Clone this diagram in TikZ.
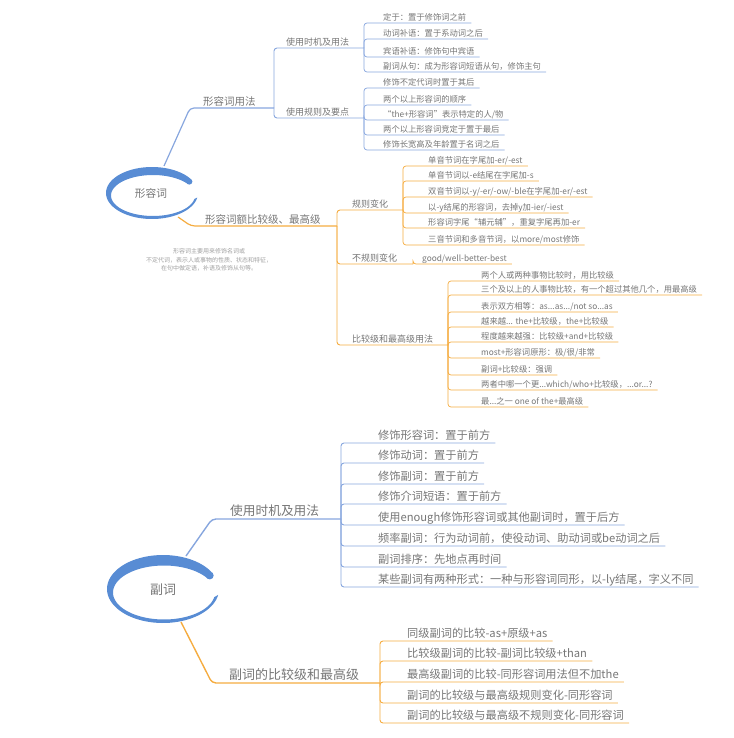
\documentclass[tikz,border=0pt]{standalone}
\usepackage{fontspec}
\setmainfont{Noto Sans CJK SC}
\definecolor{blueL}{RGB}{135,166,222}
\definecolor{ellC}{RGB}{88,140,212}
\definecolor{orgL}{RGB}{245,172,64}
\definecolor{txt}{RGB}{118,118,118}
\definecolor{notec}{RGB}{160,160,160}
\tikzset{
  lf/.style={anchor=base west, inner sep=0pt, text=txt, font=\fontsize{8.3}{10}\selectfont},
  br/.style={anchor=base west, inner sep=0pt, text=txt},
  conn/.style={draw=blueL, line width=0.7pt, rounded corners=3pt},
  mainB/.style={draw=blueL, line width=1.2pt, rounded corners=4pt},
  mainO/.style={draw=orgL, line width=1.2pt, rounded corners=4pt},
  subB/.style={draw=blueL, line width=0.9pt, rounded corners=3pt},
  subO/.style={draw=orgL, line width=0.9pt, rounded corners=3pt},
  ctext/.style={inner sep=0pt, text=txt},
}
\newcommand\leaf[6][2.5]{%
  \node[lf, yshift=#1pt] (#2) at (#3,#4) {#6};
  \draw[conn] (#5) |- ([shift={(5pt,-#1pt)}]#2.base east);
}
\begin{document}
\begin{tikzpicture}[x=1pt, y=-1pt]
\useasboundingbox (0,0) rectangle (733,738);

% ================= 形容词 =================
\coordinate (Atop) at (164,166);
\coordinate (Abend1) at (190,108);
\coordinate (JA1) at (274,108);
\draw[mainB] (Atop) -- (Abend1) -- (JA1);
\node[br, font=\fontsize{10.5}{12}\selectfont, yshift=2.5pt] (a) at (203,108) {形容词用法};

\coordinate (JA11) at (364,48);
\draw[subB] (JA1) |- (JA11);
\node[br, font=\fontsize{9}{11}\selectfont, yshift=2.5pt] (a1) at (286,48) {使用时机及用法};
\coordinate (JA12) at (364,118);
\draw[subB] (JA1) |- (JA12);
\node[br, font=\fontsize{9}{11}\selectfont, yshift=2.5pt] (a2) at (286,118) {使用规则及要点};

\leaf{a11}{383}{23}{JA11}{定于：置于修饰词之前}
\leaf{a12}{383}{39}{JA11}{动词补语：置于系动词之后}
\leaf{a13}{383}{57}{JA11}{宾语补语：修饰句中宾语}
\leaf{a14}{383}{72}{JA11}{副词从句：成为形容词短语从句，修饰主句}

\leaf{a21}{383}{88}{JA12}{修饰不定代词时置于其后}
\leaf{a22}{383}{105}{JA12}{两个以上形容词的顺序}
\leaf{a23}{383}{120}{JA12}{“the+形容词”表示特定的人/物}
\leaf{a24}{383}{135}{JA12}{两个以上形容词竞定于置于最后}
\leaf{a25}{383}{150}{JA12}{修饰长宽高及年龄置于名词之后}

\coordinate (Abot) at (178,217);
\coordinate (Abend2) at (191,226);
\coordinate (JA2) at (337,226);
\draw[mainO] (Abot) -- (Abend2) -- (JA2);
\node[br, font=\fontsize{10.5}{12}\selectfont, yshift=3pt] (b) at (205,226) {形容词额比较级、最高级};

\coordinate (JA21) at (403,210);
\coordinate (JA22) at (413,264);
\coordinate (JA23) at (448,345);
\draw[subO] (JA2) |- (JA21);
\draw[subO] (JA2) |- (JA22);
\draw[subO] (JA2) |- (JA23);
\node[br, font=\fontsize{9}{11}\selectfont, yshift=2.5pt] (b1) at (352,210) {规则变化};
\node[br, font=\fontsize{9}{11}\selectfont, yshift=2.5pt] (b2) at (352,264) {不规则变化};
\node[br, font=\fontsize{9}{11}\selectfont, yshift=2.5pt] (b3) at (352,345) {比较级和最高级用法};

\begin{scope}[conn/.style={draw=orgL, line width=0.7pt, rounded corners=3pt}]
\leaf{b11}{428}{166}{JA21}{单音节词在字尾加-er/-est}
\leaf{b12}{428}{181}{JA21}{单音节词以-e结尾在字尾加-s}
\leaf{b13}{428}{197}{JA21}{双音节词以-y/-er/-ow/-ble在字尾加-er/-est}
\leaf{b14}{428}{213}{JA21}{以-y结尾的形容词，去掉y加-ier/-iest}
\leaf{b15}{428}{228}{JA21}{形容词字尾“辅元辅”，重复字尾再加-er}
\leaf{b16}{428}{245}{JA21}{三音节词和多音节词，以more/most修饰}

\leaf{b21}{422}{264}{JA22}{good/well-better-best}

\leaf{b31}{481}{281}{JA23}{两个人或两种事物比较时，用比较级}
\leaf{b32}{481}{295}{JA23}{三个及以上的人事物比较，有一个超过其他几个，用最高级}
\leaf{b33}{481}{312}{JA23}{表示双方相等：as...as.../not so...as}
\leaf{b34}{481}{327}{JA23}{越来越... the+比较级，the+比较级}
\leaf{b35}{481}{342}{JA23}{程度越来越强：比较级+and+比较级}
\leaf{b36}{481}{358}{JA23}{most+形容词原形：极/很/非常}
\leaf{b37}{481}{375}{JA23}{副词+比较级：强调}
\leaf{b38}{481}{390}{JA23}{两者中哪一个更...which/who+比较级，...or...?}
\leaf{b39}{481}{407}{JA23}{最...之一 one of the+最高级}
\end{scope}

% ellipse 形容词
\fill[ellC] plot[domain=33:350, samples=80] ({152+46*cos(\x)},{193-26*sin(\x)})
  -- plot[domain=350:33, samples=80] ({153+42*cos(\x)},{195.5-20.5*sin(\x)}) -- cycle;
\fill[ellC] (189.4,181.6) circle[radius=3pt];
\node[ctext, font=\fontsize{10.7}{12}\selectfont] (A) at (151,193) {形容词};

\node[text=notec, font=\fontsize{6}{8.5}\selectfont, align=center, inner sep=0pt] (note) at (209,260)
  {形容词主要用来修饰名词或\\不定代词，表示人或事物的性质、状态和特征，\\在句中做定语，补语及修饰从句等。};

% ================= 副词 =================
\coordinate (Btop) at (186,556);
\coordinate (Bbend1) at (212,519);
\coordinate (JB1) at (341,519);
\draw[mainB, line width=1.4pt] (Btop) -- (Bbend1) -- (JB1);
\node[br, font=\fontsize{12.7}{14}\selectfont, yshift=4pt] (c) at (230,519) {使用时机及用法};

\begin{scope}[conn/.style={draw=blueL, line width=0.9pt, rounded corners=3pt},
  lf/.append style={font=\fontsize{11.2}{13}\selectfont}]
\leaf[3.7]{c1}{378}{443}{JB1}{修饰形容词：置于前方}
\leaf[3.7]{c2}{378}{463}{JB1}{修饰动词：置于前方}
\leaf[3.7]{c3}{378}{484}{JB1}{修饰副词：置于前方}
\leaf[3.7]{c4}{378}{504}{JB1}{修饰介词短语：置于前方}
\leaf[3.7]{c5}{378}{525}{JB1}{使用enough修饰形容词或其他副词时，置于后方}
\leaf[3.7]{c6}{378}{546}{JB1}{频率副词：行为动词前，使役动词、助动词或be动词之后}
\leaf[3.7]{c7}{378}{567}{JB1}{副词排序：先地点再时间}
\leaf[3.7]{c8}{378}{587}{JB1}{某些副词有两种形式：一种与形容词同形，以-ly结尾，字义不同}
\end{scope}

\coordinate (Bbot) at (181,622);
\coordinate (Bbend2) at (212,683);
\coordinate (JB2) at (380,683);
\draw[mainO, line width=1.4pt] (Bbot) -- (Bbend2) -- (JB2);
\node[br, font=\fontsize{13}{15}\selectfont, yshift=3.5pt] (d) at (229,683) {副词的比较级和最高级};

\begin{scope}[conn/.style={draw=orgL, line width=0.9pt, rounded corners=3pt},
  lf/.append style={font=\fontsize{11.2}{13}\selectfont}]
\leaf[3.7]{d1}{407}{641}{JB2}{同级副词的比较-as+原级+as}
\leaf[3.7]{d2}{407}{661}{JB2}{比较级副词的比较-副词比较级+than}
\leaf[3.7]{d3}{407}{682}{JB2}{最高级副词的比较-同形容词用法但不加the}
\leaf[3.7]{d4}{407}{703}{JB2}{副词的比较级与最高级规则变化-同形容词}
\leaf[3.7]{d5}{407}{723}{JB2}{副词的比较级与最高级不规则变化-同形容词}
\end{scope}

% ellipse 副词
\fill[ellC] plot[domain=30:350, samples=80] ({163+56*cos(\x)},{589-34*sin(\x)})
  -- plot[domain=350:30, samples=80] ({164+51*cos(\x)},{592.5-27*sin(\x)}) -- cycle;
\fill[ellC] (209.8,575.5) circle[radius=3.9pt];
\node[ctext, font=\fontsize{13}{15}\selectfont] (B) at (163,590) {副词};

\end{tikzpicture}
\end{document}
